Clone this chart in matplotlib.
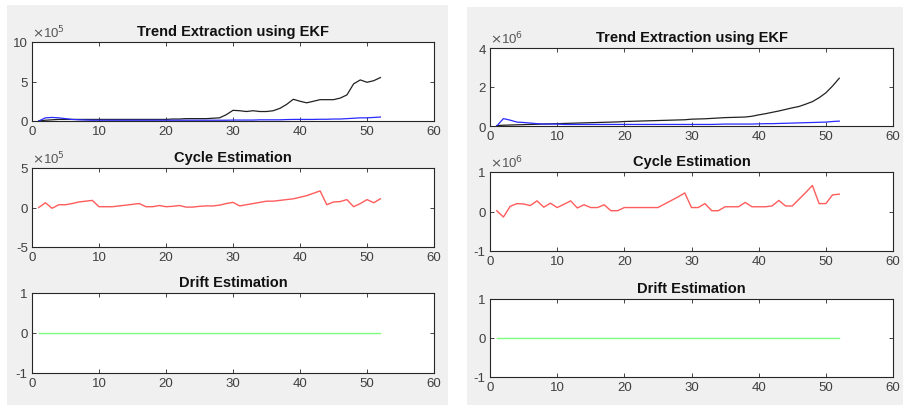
import matplotlib
matplotlib.use("Agg")
import matplotlib.pyplot as plt
from matplotlib.patches import Rectangle

plt.rcParams['font.family'] = ['Liberation Sans', 'DejaVu Sans']

# time index (weeks)
t = list(range(1, 53))

# ---- left figure (x 10^5) ----
trend_left = [0.0, 0.1, 0.15, 0.2, 0.2, 0.2, 0.2, 0.2, 0.2, 0.2,
              0.2, 0.2, 0.2, 0.2, 0.2, 0.2, 0.2, 0.2, 0.2, 0.2,
              0.25, 0.25, 0.3, 0.3, 0.3, 0.3, 0.35, 0.4, 0.8, 1.35,
              1.3, 1.2, 1.3, 1.2, 1.2, 1.3, 1.6, 2.1, 2.75, 2.5,
              2.3, 2.5, 2.7, 2.7, 2.7, 2.9, 3.3, 4.7, 5.2, 4.9,
              5.1, 5.5]
level_left = [0.0, 0.4, 0.45, 0.4, 0.3, 0.2, 0.15, 0.12, 0.1, 0.1,
              0.1, 0.1, 0.1, 0.1, 0.1, 0.1, 0.1, 0.1, 0.1, 0.1,
              0.1, 0.1, 0.1, 0.1, 0.1, 0.1, 0.1, 0.1, 0.1, 0.12,
              0.12, 0.12, 0.12, 0.15, 0.15, 0.15, 0.15, 0.18, 0.2, 0.2,
              0.2, 0.2, 0.22, 0.22, 0.25, 0.25, 0.3, 0.35, 0.4, 0.4,
              0.45, 0.5]
cycle_left = [0.0, 0.6, -0.1, 0.35, 0.35, 0.5, 0.7, 0.8, 0.9, 0.1,
              0.1, 0.1, 0.2, 0.3, 0.4, 0.5, 0.1, 0.1, 0.25, 0.1,
              0.15, 0.25, 0.05, 0.05, 0.15, 0.2, 0.2, 0.3, 0.5, 0.65,
              0.2, 0.35, 0.5, 0.65, 0.8, 0.8, 0.9, 1.0, 1.1, 1.3,
              1.5, 1.8, 2.1, 0.35, 0.7, 0.75, 1.0, 0.1, 0.5, 1.0,
              0.6, 1.1]

# ---- right figure (x 10^6) ----
trend_right = [0.02, 0.04, 0.05, 0.06, 0.07, 0.08, 0.09, 0.1, 0.11, 0.12,
               0.13, 0.14, 0.15, 0.16, 0.17, 0.18, 0.19, 0.2, 0.21, 0.23,
               0.24, 0.25, 0.26, 0.27, 0.28, 0.29, 0.3, 0.31, 0.32, 0.35,
               0.36, 0.37, 0.39, 0.41, 0.43, 0.44, 0.45, 0.46, 0.5, 0.57,
               0.63, 0.7, 0.77, 0.85, 0.93, 1.0, 1.12, 1.25, 1.45, 1.7,
               2.05, 2.45]
level_right = [0.0, 0.38, 0.3, 0.2, 0.18, 0.15, 0.12, 0.1, 0.1, 0.1,
               0.08, 0.08, 0.08, 0.08, 0.08, 0.08, 0.08, 0.08, 0.08, 0.08,
               0.08, 0.08, 0.08, 0.08, 0.08, 0.08, 0.08, 0.08, 0.08, 0.08,
               0.08, 0.08, 0.08, 0.09, 0.1, 0.1, 0.1, 0.1, 0.1, 0.11,
               0.12, 0.12, 0.13, 0.14, 0.15, 0.16, 0.17, 0.18, 0.19, 0.2,
               0.23, 0.25]
cycle_right = [0.02, -0.14, 0.13, 0.2, 0.19, 0.15, 0.27, 0.11, 0.21, 0.1,
               0.18, 0.27, 0.09, 0.17, 0.1, 0.1, 0.17, 0.02, 0.02, 0.1,
               0.1, 0.1, 0.1, 0.1, 0.1, 0.19, 0.28, 0.37, 0.47, 0.1,
               0.1, 0.2, 0.02, 0.02, 0.12, 0.12, 0.12, 0.23, 0.12, 0.12,
               0.12, 0.14, 0.28, 0.14, 0.14, 0.31, 0.48, 0.66, 0.2, 0.2,
               0.42, 0.44]

drift = [0.0] * 52

W, H = 905, 406
fig = plt.figure(figsize=(W / 100, H / 100), dpi=100)
fig.patch.set_facecolor("white")

# gray matlab figure backgrounds
fig.patches.append(Rectangle((7 / W, 0), 441 / W, 1 - 6 / H, transform=fig.transFigure,
                             facecolor="#f0f0f0", edgecolor="none", zorder=-1))
fig.patches.append(Rectangle((467 / W, 0), 436 / W, 1 - 8 / H, transform=fig.transFigure,
                             facecolor="#f0f0f0", edgecolor="none", zorder=-1))


def make_ax(x0, x1, top, bottom):
    ax = fig.add_axes([x0 / W, 1 - bottom / H, (x1 - x0) / W, (bottom - top) / H])
    ax.set_facecolor("white")
    ax.set_xlim(0, 60)
    ax.set_xticks([0, 10, 20, 30, 40, 50, 60])
    for s in ax.spines.values():
        s.set_color("#262626")
        s.set_linewidth(0.8)
    ax.tick_params(direction="in", top=True, right=True, length=3, width=0.6,
                   colors="#262626", labelcolor="#404040", labelsize=9.5, pad=3)
    return ax


def style(ax, title, ylim, yticks, yticklabels, expo=None):
    ax.set_ylim(*ylim)
    ax.set_yticks(yticks)
    ax.set_yticklabels(yticklabels)
    ax.set_title(title, fontsize=10.5, fontweight="bold", color="#111111", pad=5)
    if expo:
        ax.text(0.0, 1.02, r"$\times$10$^{%d}$" % expo, transform=ax.transAxes,
                fontsize=9.5, color="#555555", ha="left", va="bottom")


panels = [
    (32, 434, [(43, 122), (169, 248), (294, 374)], trend_left, level_left, cycle_left, 5,
     (0, 10), [0, 5, 10], (-5, 5), [-5, 0, 5]),
    (490, 893, [(49, 127), (173, 252), (300, 378)], trend_right, level_right, cycle_right, 6,
     (0, 4), [0, 2, 4], (-1, 1), [-1, 0, 1]),
]

for x0, x1, rows, trend, level, cycle, expo, tlim, tticks, clim, cticks in panels:
    ax = make_ax(x0, x1, *rows[0])
    ax.plot(t, trend, color="#222222", lw=0.9)
    ax.plot(t, level, color="#2a2aff", lw=0.9)
    style(ax, "Trend Extraction using EKF", tlim, tticks, [str(v) for v in tticks], expo)

    ax = make_ax(x0, x1, *rows[1])
    ax.plot(t, cycle, color="#ff5c5c", lw=1.0)
    style(ax, "Cycle Estimation", clim, cticks, [str(v) for v in cticks], expo)

    ax = make_ax(x0, x1, *rows[2])
    ax.plot(t, drift, color="#7dff7d", lw=1.0)
    style(ax, "Drift Estimation", (-1, 1), [-1, 0, 1], ["-1", "0", "1"])

fig.savefig("out.png", dpi=100, facecolor=fig.get_facecolor())
